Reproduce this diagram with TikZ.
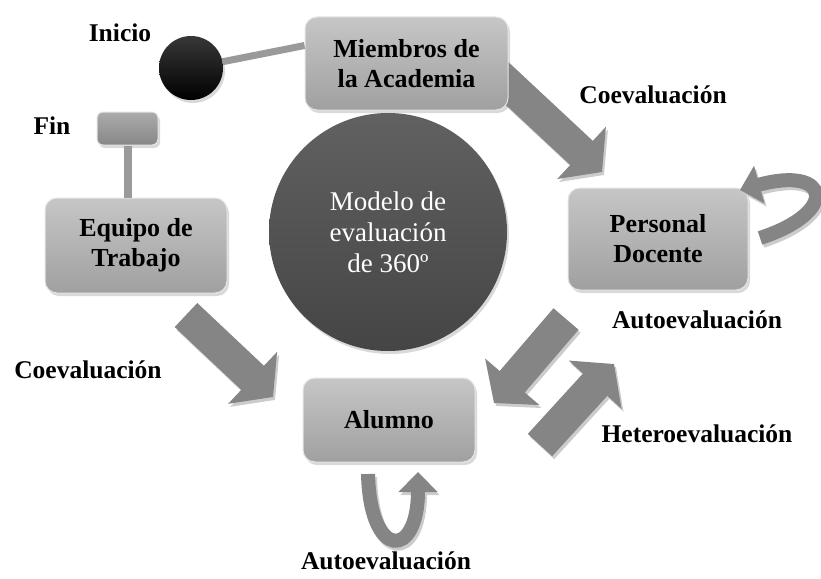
\documentclass[tikz,border=0pt]{standalone}
\usepackage{fontspec}
\setmainfont{Liberation Serif}
\usetikzlibrary{arrows.meta,shadows}

\definecolor{boxtop}{HTML}{C6C6C6}
\definecolor{boxbot}{HTML}{A0A0A0}
\definecolor{arrowgray}{HTML}{858585}
\definecolor{linkgray}{HTML}{9A9A9A}

\begin{document}
\begin{tikzpicture}[x=1pt,y=-1pt]
        \tikzset{BoxStyle/.style={draw=white!80!gray, line width=1pt,
            rounded corners=12pt, top color=boxtop, bottom color=boxbot,
            drop shadow={shadow xshift=2pt, shadow yshift=-3pt, opacity=.3},
            align=center, inner sep=0pt,
            font=\fontsize{26}{30}\selectfont\bfseries}}
        \tikzset{LabelStyle/.style={font=\fontsize{25.5}{30}\selectfont\bfseries}}
        \tikzset{BlockArrow/.style={draw=arrowgray, line width=33pt,
            -{Triangle[length=28pt,width=70pt]}}}
        \tikzset{ArrowShadow/.style={BlockArrow, draw=black!20,
            transform canvas={xshift=2pt,yshift=-3pt}}}
        \tikzset{LoopArrow/.style={draw=arrowgray, line width=14pt,
            -{Triangle[length=20pt,width=38pt]}}}
        \tikzset{LoopShadow/.style={LoopArrow, draw=black!20,
            transform canvas={xshift=2pt,yshift=-3pt}}}
        \tikzset{LinkStyle/.style={draw=linkgray, line width=7pt}}

        \useasboundingbox (0,0) rectangle (821,578);

        % block arrows, under the boxes
        \coordinate (m1) at (497,74);
        \coordinate (p1) at (602,172);
        \coordinate (e1) at (186,315);
        \coordinate (a1) at (273,397);
        \coordinate (p2) at (566,319);
        \coordinate (a2) at (494,403);
        \coordinate (a3) at (540,445);
        \coordinate (p3) at (614,364);

        \draw[ArrowShadow] (m1) -- (p1);
        \draw[BlockArrow] (m1) -- (p1);
        \draw[ArrowShadow] (e1) -- (a1);
        \draw[BlockArrow] (e1) -- (a1);
        \draw[ArrowShadow] (p2) -- (a2);
        \draw[BlockArrow] (p2) -- (a2);
        \draw[ArrowShadow] (a3) -- (p3);
        \draw[BlockArrow] (a3) -- (p3);

        \node[BoxStyle, minimum width=203pt, minimum height=93pt]
          (m) at (406.5,63.5) {Miembros de\\la Academia};
        \node[BoxStyle, minimum width=180pt, minimum height=102pt]
          (p) at (658,239) {Personal\\Docente};
        \node[BoxStyle, minimum width=172pt, minimum height=84pt]
          (a) at (389,420) {Alumno};
        \node[BoxStyle, minimum width=182pt, minimum height=95pt]
          (e) at (136,245.5) {Equipo de\\Trabajo};
        \node[BoxStyle, rounded corners=6pt, top color=black!33,
          bottom color=black!47, minimum width=61pt, minimum height=33pt]
          (fin) at (127.5,128.5) {};

        \node[circle, minimum size=64pt, inner sep=0pt,
          top color=black!78, bottom color=black,
          drop shadow={shadow xshift=2pt, shadow yshift=-3pt, opacity=.3}]
          (ini) at (191,68) {};
        \node[circle, minimum size=238pt, inner sep=0pt, align=center,
          top color=black!62, bottom color=black!73, text=white,
          drop shadow={shadow xshift=2pt, shadow yshift=-3pt, opacity=.3},
          font=\fontsize{27}{31}\selectfont]
          (c) at (388,232) {Modelo de\\evaluación\\de 360º};

        \draw[LinkStyle] (ini) -- (m.170);
        \draw[LinkStyle, line width=8pt] (fin) -- (fin |- e.north);

        % self loops
        \coordinate (pl) at (760,238);
        \coordinate (pr) at (740,190);
        \coordinate (al) at (368,474);
        \coordinate (ar) at (418,472);
        \draw[LoopShadow] (pl) .. controls (840,212) and (830,165) .. (pr);
        \draw[LoopArrow] (pl) .. controls (840,212) and (830,165) .. (pr);
        \draw[LoopShadow] (al) .. controls (370,560) and (418,560) .. (ar);
        \draw[LoopArrow] (al) .. controls (370,560) and (418,560) .. (ar);

        \node[LabelStyle] (lini) at (120,33) {Inicio};
        \node[LabelStyle] (lfin) at (52,126) {Fin};
        \node[LabelStyle] (lco1) at (653,95) {Coevaluación};
        \node[LabelStyle] (lau1) at (697,320) {Autoevaluación};
        \node[LabelStyle] (lco2) at (88,370) {Coevaluación};
        \node[LabelStyle] (lhe) at (697,434) {Heteroevaluación};
        \node[LabelStyle] (lau2) at (386,561) {Autoevaluación};
      \end{tikzpicture}
\end{document}
